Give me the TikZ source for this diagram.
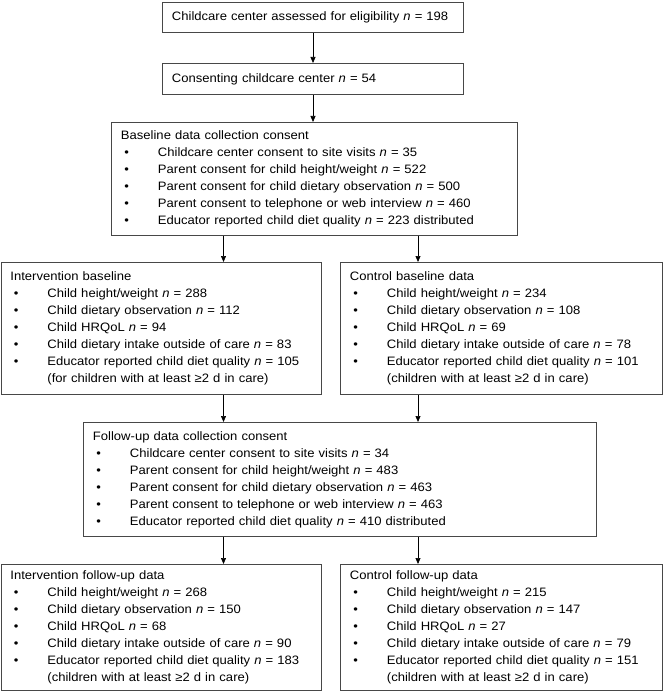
\documentclass[tikz,border=0pt]{standalone}
\usepackage{fontspec}
\setmainfont{Liberation Sans}[FakeStretch=1.07]
\usetikzlibrary{arrows.meta}
\usetikzlibrary{calc}
\newcommand{\bitem}[1] % one bullet line in a box
{\\\hspace*{3.5pt}\makebox[33.5pt][l]{\textbullet}#1}
\newcommand{\bmore}[1] % continued line of a bullet
{\\\hspace*{37pt}#1}
\newcommand{\nn}{\textit{n}}

\begin{document}
\begin{tikzpicture}[x=1pt, y=-1pt,
	box/.style={draw=black!72, line width=0.9pt, anchor=north west, align=left,
		inner xsep=9.5pt, inner ysep=0pt,
		font=\fontsize{12.2}{17}\selectfont},
	arr/.style={-{Triangle[length=6pt,width=5pt]}, line width=0.7pt, black}]
	% page: 663 x 692
	\useasboundingbox (0,0) rectangle (663,692);
	% top two boxes
	\node[box, text width=282pt, minimum height=30pt] (elig) at (162,2)
		{Childcare center assessed for eligibility \nn{} = 198};
	\node[box, text width=282pt, minimum height=31pt] (cons) at (162,63)
		{Consenting childcare center \nn{} = 54};
	% baseline consent
	\node[box, text width=387pt, minimum height=113pt] (base) at (111,122)
		{Baseline data collection consent
		\bitem{Childcare center consent to site visits \nn{} = 35}
		\bitem{Parent consent for child height/weight \nn{} = 522}
		\bitem{Parent consent for child dietary observation \nn{} = 500}
		\bitem{Parent consent to telephone or web interview \nn{} = 460}
		\bitem{Educator reported child diet quality \nn{} = 223 distributed}};
	% baseline data
	\node[box, text width=301pt, minimum height=132pt] (ibase) at (0.5,262)
		{Intervention baseline
		\bitem{Child height/weight \nn{} = 288}
		\bitem{Child dietary observation \nn{} = 112}
		\bitem{Child HRQoL \nn{} = 94}
		\bitem{Child dietary intake outside of care \nn{} = 83}
		\bitem{Educator reported child diet quality \nn{} = 105}
		\bmore{(for children with at least ≥2 d in care)}};
	\node[box, text width=303pt, minimum height=132pt] (cbase) at (340,262)
		{Control baseline data
		\bitem{Child height/weight \nn{} = 234}
		\bitem{Child dietary observation \nn{} = 108}
		\bitem{Child HRQoL \nn{} = 69}
		\bitem{Child dietary intake outside of care \nn{} = 78}
		\bitem{Educator reported child diet quality \nn{} = 101}
		\bmore{(children with at least ≥2 d in care)}};
	% follow-up consent
	\node[box, text width=494pt, minimum height=114pt] (fcons) at (83,422)
		{Follow-up data collection consent
		\bitem{Childcare center consent to site visits \nn{} = 34}
		\bitem{Parent consent for child height/weight \nn{} = 483}
		\bitem{Parent consent for child dietary observation \nn{} = 463}
		\bitem{Parent consent to telephone or web interview \nn{} = 463}
		\bitem{Educator reported child diet quality \nn{} = 410 distributed}};
	% follow-up data
	\node[box, text width=301pt, minimum height=126pt] (ifol) at (0.5,564)
		{Intervention follow-up data
		\bitem{Child height/weight \nn{} = 268}
		\bitem{Child dietary observation \nn{} = 150}
		\bitem{Child HRQoL \nn{} = 68}
		\bitem{Child dietary intake outside of care \nn{} = 90}
		\bitem{Educator reported child diet quality \nn{} = 183}
		\bmore{(children with at least ≥2 d in care)}};
	\node[box, text width=303pt, minimum height=126pt] (cfol) at (340,564)
		{Control follow-up data
		\bitem{Child height/weight \nn{} = 215}
		\bitem{Child dietary observation \nn{} = 147}
		\bitem{Child HRQoL \nn{} = 27}
		\bitem{Child dietary intake outside of care \nn{} = 79}
		\bitem{Educator reported child diet quality \nn{} = 151}
		\bmore{(children with at least ≥2 d in care)}};
	% arrow columns
	\coordinate (mid) at (313,0);
	\coordinate (left) at (223.5,0);
	\coordinate (right) at (418,0);
	\draw[arr] (elig.south -| mid) -- (cons.north -| mid);
	\draw[arr] (cons.south -| mid) -- (base.north -| mid);
	\draw[arr] (base.south -| left) -- (ibase.north -| left);
	\draw[arr] (base.south -| right) -- (cbase.north -| right);
	\draw[arr] (ibase.south -| left) -- (fcons.north -| left);
	\draw[arr] (cbase.south -| right) -- (fcons.north -| right);
	\draw[arr] (fcons.south -| left) -- (ifol.north -| left);
	\draw[arr] (fcons.south -| right) -- (cfol.north -| right);
\end{tikzpicture}
\end{document}
